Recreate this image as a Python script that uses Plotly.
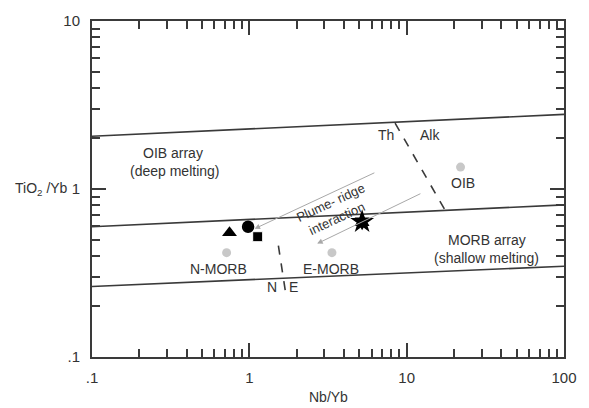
import numpy as np
import plotly.graph_objects as go

# ---- data ----
array_x = [0.1, 100]
oib_upper_y = [2.06, 2.78]
morb_upper_y = [0.596, 0.804]
morb_lower_y = [0.263, 0.347]

th_alk_x = [8.44, 17.5]
th_alk_y = [2.47, 0.751]
n_e_x = [1.53, 1.71]
n_e_y = [0.46, 0.233]

ref_names = ["N-MORB", "E-MORB", "OIB"]
ref_x = [0.717, 3.35, 22.0]
ref_y = [0.418, 0.418, 1.35]

tri_x, tri_y = [0.748], [0.549]
circ_x, circ_y = [0.982], [0.596]
sq_x, sq_y = [1.13], [0.52]
star_x, star_y = [5.21], [0.638]

arrow_from_x = [6.37, 12.5]
arrow_from_y = [1.26, 0.947]
arrow_to_x = [1.08, 2.70]
arrow_to_y = [0.58, 0.473]

x_tickvals = [0.1, 1, 10, 100]
x_ticktext = [".1", "1", "10", "100"]
y_tickvals = [0.1, 1, 10]
y_ticktext = [".1", "1", "10"]

FONT = "Liberation Sans, Arial, sans-serif"
LINE = "#3a3a3a"

fig = go.Figure()

for yy in (oib_upper_y, morb_upper_y, morb_lower_y):
    fig.add_trace(go.Scatter(x=array_x, y=yy, mode="lines",
                             line=dict(color=LINE, width=1.6), hoverinfo="skip"))
for xx, yy in ((th_alk_x, th_alk_y), (n_e_x, n_e_y)):
    fig.add_trace(go.Scatter(x=xx, y=yy, mode="lines",
                             line=dict(color=LINE, width=1.6, dash="dash"), hoverinfo="skip"))

fig.add_trace(go.Scatter(x=ref_x, y=ref_y, mode="markers",
                         marker=dict(color="#c8c8c8", size=9)))

fig.add_trace(go.Scatter(x=tri_x, y=tri_y, mode="markers",
                         marker=dict(symbol="triangle-up", color="black", size=13)))
fig.add_trace(go.Scatter(x=circ_x, y=circ_y, mode="markers",
                         marker=dict(symbol="circle", color="black", size=10,
                                     line=dict(color="black", width=1))))
fig.add_trace(go.Scatter(x=circ_x, y=circ_y, mode="markers",
                         marker=dict(symbol="circle-open", color="black", size=11,
                                     line=dict(width=1.5))))
fig.add_trace(go.Scatter(x=sq_x, y=sq_y, mode="markers",
                         marker=dict(symbol="square", color="black", size=10,
                                     line=dict(color="white", width=1))))
fig.add_trace(go.Scatter(x=star_x, y=star_y, mode="markers",
                         marker=dict(symbol="star", color="black", size=18)))
fig.add_trace(go.Scatter(x=star_x, y=star_y, mode="markers",
                         marker=dict(symbol="hexagram", color="black", size=13)))

for fx, fy, tx, ty in zip(arrow_from_x, arrow_from_y, arrow_to_x, arrow_to_y):
    fig.add_annotation(x=np.log10(tx), y=np.log10(ty), ax=np.log10(fx), ay=np.log10(fy),
                       xref="x", yref="y", axref="x", ayref="y", text="",
                       showarrow=True, arrowhead=2, arrowsize=1.1, arrowwidth=1,
                       arrowcolor="#a8a8a8")

def label(text, x, y, size=14, angle=0):
    fig.add_annotation(x=np.log10(x), y=np.log10(y), xref="x", yref="y", text=text,
                       showarrow=False, textangle=angle, xanchor="center", yanchor="middle",
                       font=dict(family=FONT, size=size, color="#333"))

label("OIB array", 0.327, 1.63)
label("(deep melting)", 0.336, 1.28)
label("Th", 7.35, 2.09)
label("Alk", 14.0, 2.09)
label("OIB", 22.7, 1.085)
label("MORB array", 32.4, 0.50)
label("(shallow melting)", 32.0, 0.388)
label("N-MORB", 0.64, 0.336)
label("E-MORB", 3.30, 0.336)
label("N", 1.40, 0.26)
label("E", 1.92, 0.26)
label("Plume- ridge", 3.30, 0.826, size=13, angle=-25)
label("interaction", 3.60, 0.665, size=13, angle=-25)

fig.add_annotation(x=0.5, y=-0.12, xref="paper", yref="paper", text="Nb/Yb",
                   xanchor="center", yanchor="middle",
                   showarrow=False, font=dict(family=FONT, size=14, color="#333"))
fig.add_annotation(x=-0.106, y=0.5, xref="paper", yref="paper", text="TiO<sub>2</sub> /Yb",
                   xanchor="center", yanchor="middle",
                   showarrow=False, font=dict(family=FONT, size=14, color="#333"))

minor_x = [k * 10.0 ** d for d in (-1, 0, 1) for k in range(2, 10)]
minor_y = [k * 10.0 ** d for d in (-1, 0) for k in range(2, 10)]

axis_common = dict(type="log", showline=True, linecolor=LINE, linewidth=2,
                   mirror="ticks", ticks="inside", ticklen=14, tickwidth=2,
                   tickcolor=LINE, showgrid=False, zeroline=False,
                   tickfont=dict(family=FONT, size=15, color="#333"))

fig.update_xaxes(range=[-1, 2], tickmode="array", tickvals=x_tickvals, ticktext=x_ticktext,
                 ticklabelstandoff=6,
                 minor=dict(tickmode="array", tickvals=minor_x, ticks="inside",
                            ticklen=8, tickwidth=2, tickcolor=LINE, showgrid=False),
                 **axis_common)
fig.update_yaxes(range=[-1, 1], tickmode="array", tickvals=y_tickvals, ticktext=y_ticktext,
                 ticklabelstandoff=7,
                 minor=dict(tickmode="array", tickvals=minor_y, ticks="inside",
                            ticklen=8, tickwidth=2, tickcolor=LINE, showgrid=False),
                 **axis_common)

fig.update_layout(width=589, height=408, margin=dict(l=92, r=13, t=19, b=51),
                  plot_bgcolor="white", paper_bgcolor="white", showlegend=False)

fig.write_html("out.html")
